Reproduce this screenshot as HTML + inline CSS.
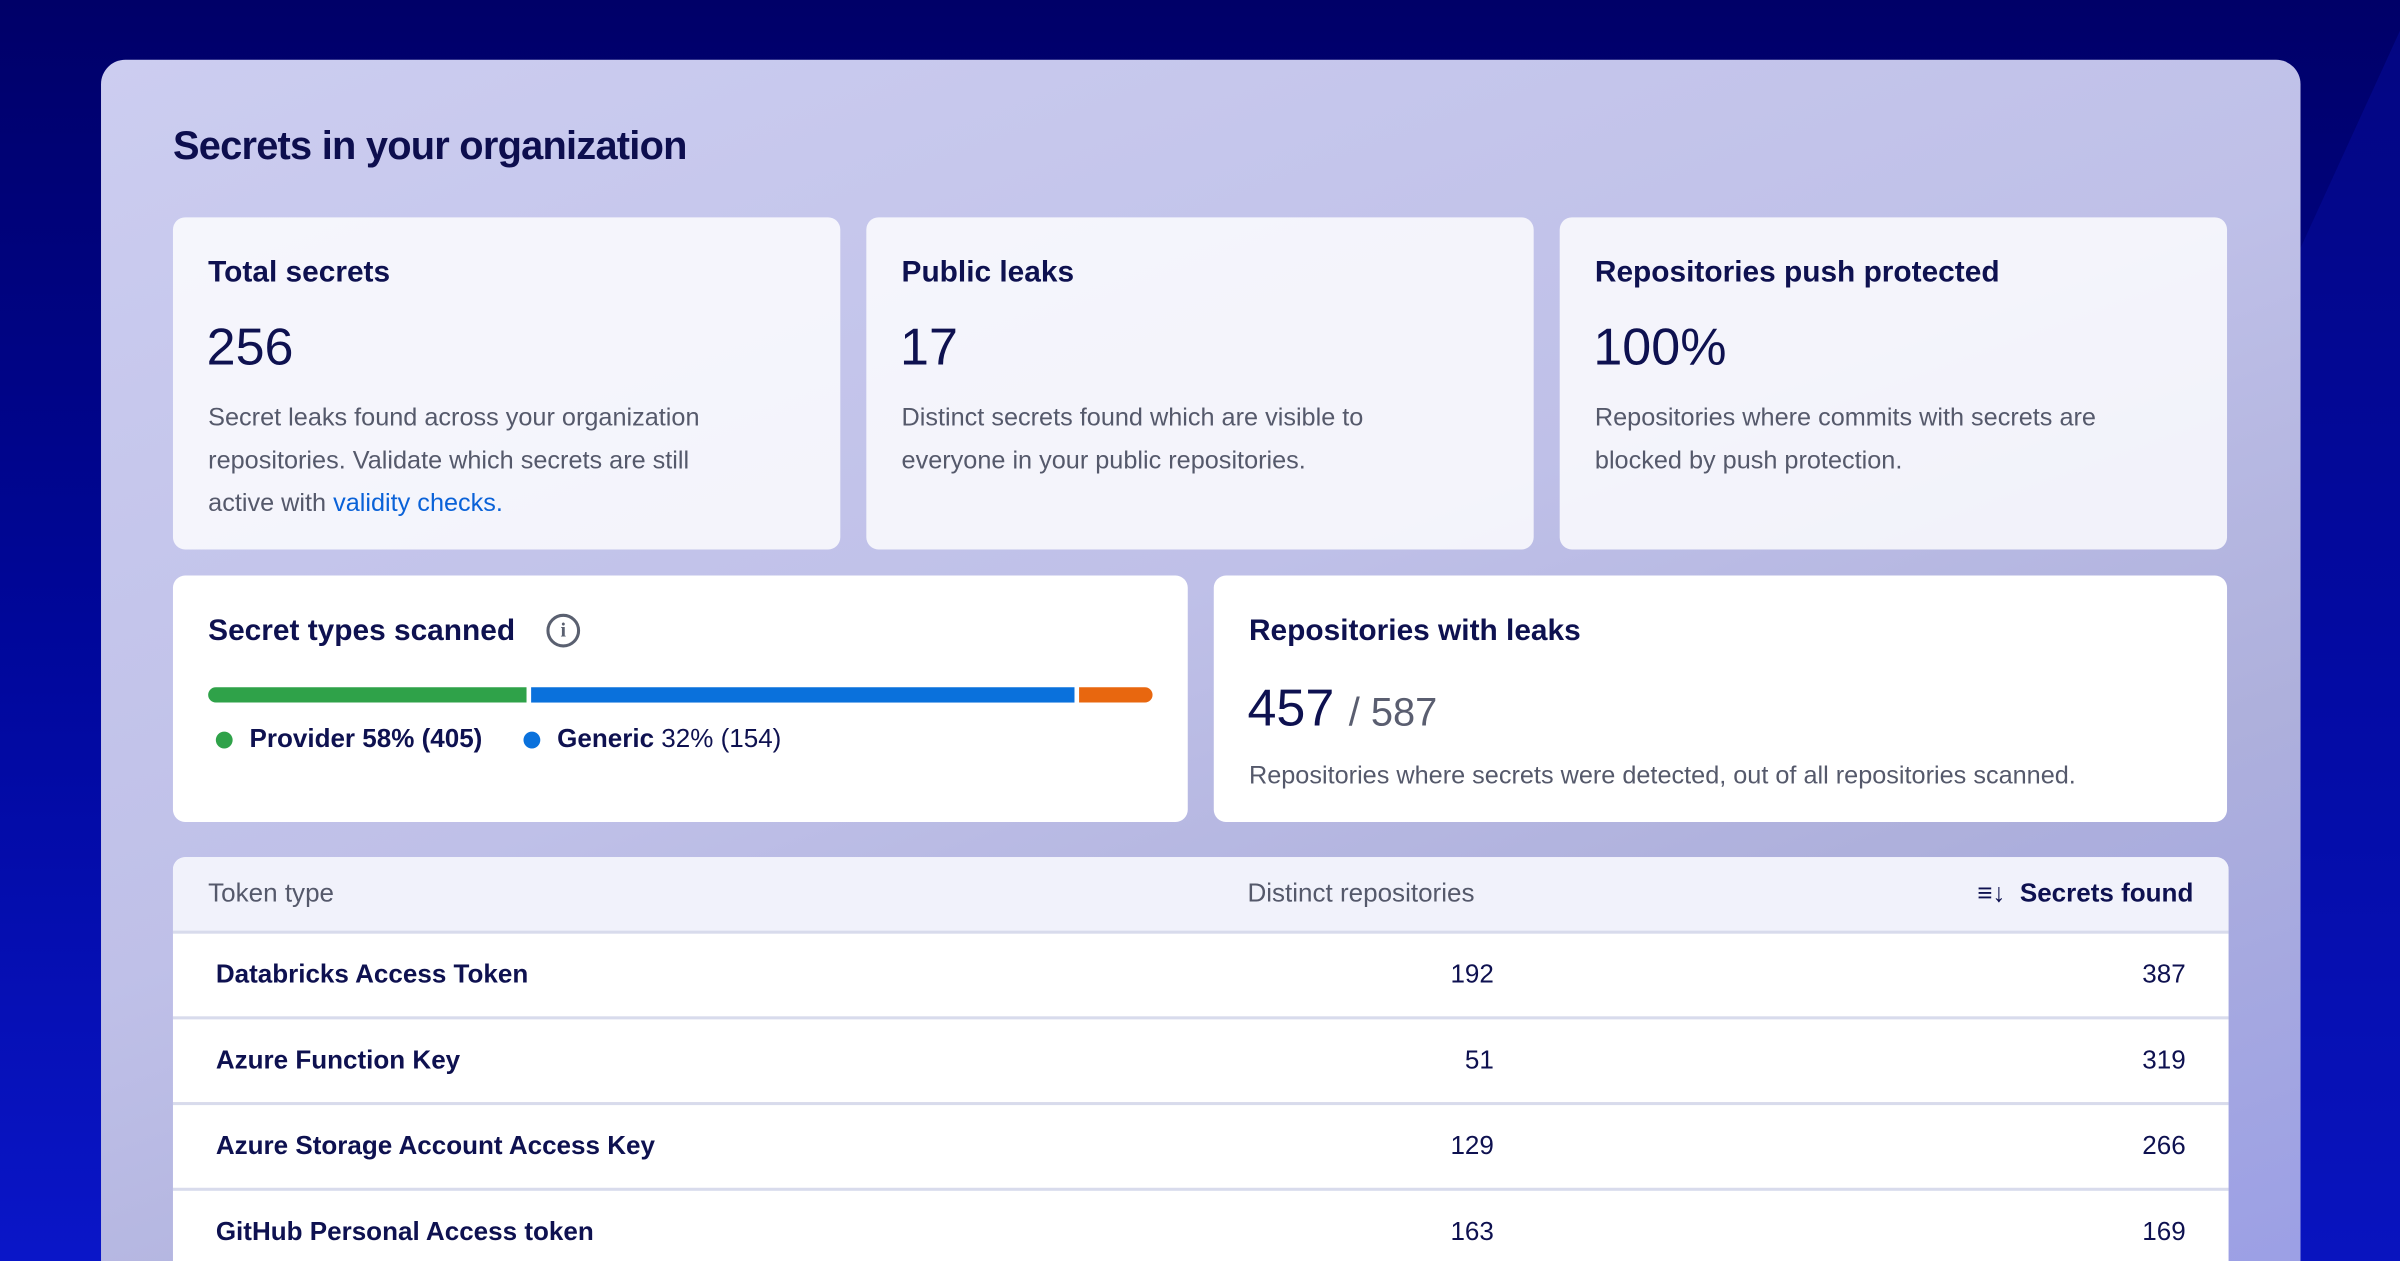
<!DOCTYPE html>
<html><head><meta charset="utf-8"><style>
html,body{margin:0;padding:0;width:2400px;height:1261px;overflow:hidden;background:#00006e;}
#s{position:absolute;left:0;top:0;width:1568px;height:824px;transform:scale(1.530613);transform-origin:0 0;overflow:hidden;
background:linear-gradient(180deg,#000068 0%,#00079a 50%,#0a16c8 100%);font-family:"Liberation Sans",sans-serif;color:#0e1150;}
#panel{position:absolute;left:66px;top:39px;width:1437px;height:820px;border-radius:16px;
background:linear-gradient(160deg,#cccdf0 0%,#bfc0e8 45%,#aeb0dc 70%,#9a9ee6 100%);}
.card{position:absolute;background:rgba(255,255,255,0.82);border-radius:8px;box-sizing:border-box;padding:0 22px;}
.h{position:absolute;left:23px;font-size:19.5px;font-weight:bold;color:#0e1150;}
.big{position:absolute;left:22px;font-size:34px;color:#0e1150;}
.p{position:absolute;left:23px;width:350px;font-size:16.5px;line-height:28px;color:#55596b;}
.tbl{position:absolute;left:113px;top:560px;width:1343px;height:300px;background:#fff;border-radius:8px;overflow:hidden;}
.row{position:absolute;left:0;width:100%;height:56px;border-top:2px solid #d8dbec;font-size:17px;font-weight:bold;}
.row span{position:absolute;top:17px;}
</style></head><body><div id="s">
<svg style="position:absolute;left:0;top:0" width="1568" height="824"><polygon points="1568,20 1568,824 1200,824" fill="#0a10b0" opacity="0.35"/></svg>
<div id="panel"></div>
<div style="position:absolute;left:113px;top:80px;font-size:26px;font-weight:bold;letter-spacing:-0.5px;color:#0d0e4e;">Secrets in your organization</div>

<div class="card" style="left:113px;top:142px;width:436px;height:217px;">
<div class="h" style="top:25px">Total secrets</div><div class="big" style="top:66px">256</div>
<div class="p" style="top:117px">Secret leaks found across your organization repositories. Validate which secrets are still active with <span style="color:#0a62d8">validity checks.</span></div></div>
<div class="card" style="left:566px;top:142px;width:436px;height:217px;">
<div class="h" style="top:25px">Public leaks</div><div class="big" style="top:66px">17</div>
<div class="p" style="top:117px">Distinct secrets found which are visible to everyone in your public repositories.</div></div>
<div class="card" style="left:1019px;top:142px;width:436px;height:217px;">
<div class="h" style="top:25px">Repositories push protected</div><div class="big" style="top:66px">100%</div>
<div class="p" style="top:117px">Repositories where commits with secrets are blocked by push protection.</div></div>

<div class="card" style="left:113px;top:376px;width:663px;height:161px;background:#fff;">
<div class="h" style="top:25px">Secret types scanned</div>
<div style="position:absolute;left:244px;top:25px;width:18px;height:18px;border:2px solid #5a6070;border-radius:50%;font-size:13px;font-weight:bold;text-align:center;line-height:18px;color:#5a6070;font-family:'Liberation Serif',serif;">i</div>
<div style="position:absolute;left:23px;top:73px;width:208px;height:10px;background:#2fa249;border-radius:5px 0 0 5px"></div>
<div style="position:absolute;left:234px;top:73px;width:355px;height:10px;background:#0a71dc"></div>
<div style="position:absolute;left:592px;top:73px;width:48px;height:10px;background:#e8670f;border-radius:0 5px 5px 0"></div>
<div style="position:absolute;left:28px;top:102px;width:11px;height:11px;border-radius:50%;background:#2fa249"></div>
<div style="position:absolute;left:50px;top:97px;font-size:17px;font-weight:bold">Provider 58% (405)</div>
<div style="position:absolute;left:229px;top:102px;width:11px;height:11px;border-radius:50%;background:#0a71dc"></div>
<div style="position:absolute;left:251px;top:97px;font-size:17px;font-weight:bold">Generic <span style="font-weight:normal">32% (154)</span></div>
</div>
<div class="card" style="left:793px;top:376px;width:662px;height:161px;background:#fff;">
<div class="h" style="top:25px">Repositories with leaks</div>
<div class="big" style="top:68px">457 <span style="font-size:26px;color:#5a5e70">/ 587</span></div>
<div class="p" style="top:117px;width:620px">Repositories where secrets were detected, out of all repositories scanned.</div></div>

<div class="tbl">
<div style="position:absolute;left:0;top:0;width:100%;height:48px;background:#f1f2fb;font-size:17px;color:#55596b;">
<span style="position:absolute;left:23px;top:14px">Token type</span>
<span style="position:absolute;left:702px;top:14px">Distinct repositories</span>
<span style="position:absolute;right:23px;top:14px;color:#0e1150;font-weight:bold">≡↓&nbsp; Secrets found</span></div>
<div class="row" style="top:48px"><span style="left:28px">Databricks Access Token</span><span style="right:480px;font-weight:normal">192</span><span style="right:28px;font-weight:normal">387</span></div>
<div class="row" style="top:104px"><span style="left:28px">Azure Function Key</span><span style="right:480px;font-weight:normal">51</span><span style="right:28px;font-weight:normal">319</span></div>
<div class="row" style="top:160px"><span style="left:28px">Azure Storage Account Access Key</span><span style="right:480px;font-weight:normal">129</span><span style="right:28px;font-weight:normal">266</span></div>
<div class="row" style="top:216px"><span style="left:28px">GitHub Personal Access token</span><span style="right:480px;font-weight:normal">163</span><span style="right:28px;font-weight:normal">169</span></div>
</div>
</div></body></html>
